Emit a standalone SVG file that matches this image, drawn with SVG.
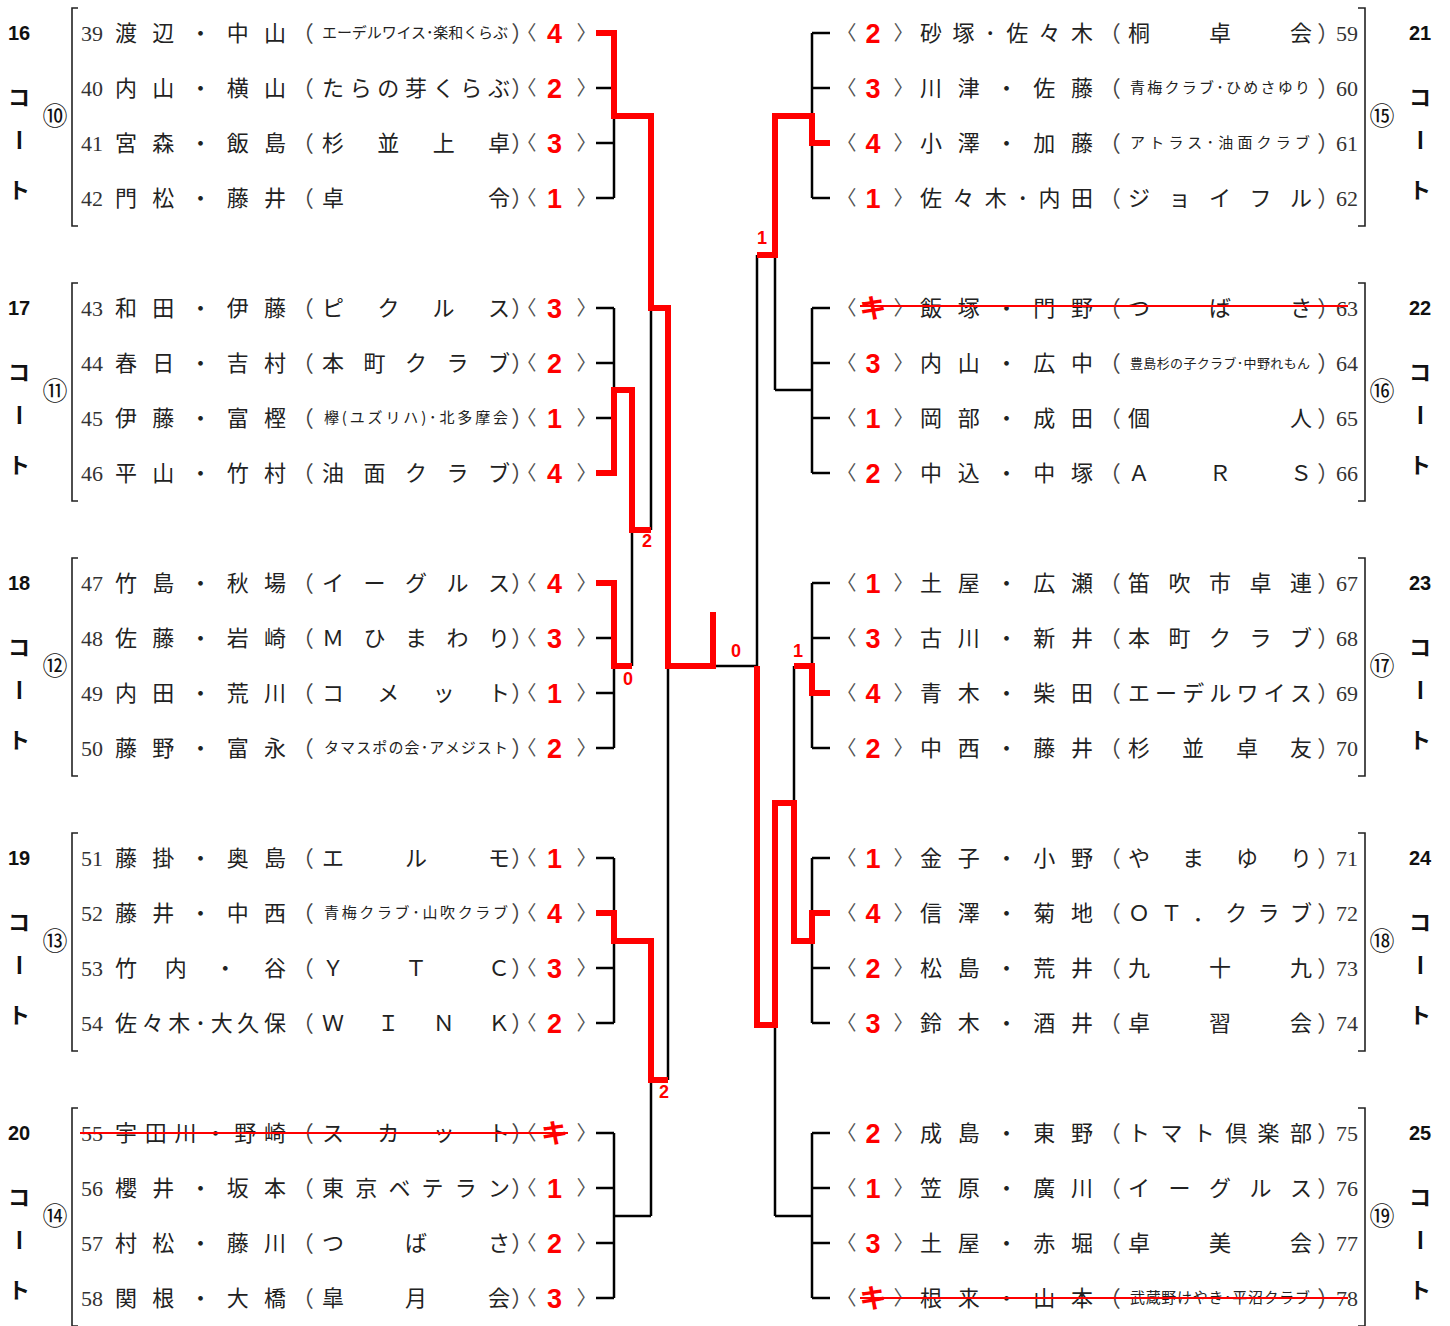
<svg xmlns="http://www.w3.org/2000/svg" width="1450" height="1326" viewBox="0 0 1450 1326">
<style>
text{font-family:"Noto Sans CJK JP",sans-serif}
.no{font-family:"Liberation Serif","Noto Sans CJK JP",serif;font-size:22px;fill:#333}
.nm{font-size:22px;fill:#222}
.cl{font-size:22px;fill:#222}
.sm{font-size:15px;fill:#222}
.s13{font-size:13px;fill:#222}
.pr{font-size:22px;fill:#444;font-feature-settings:"palt"}
.ab{font-size:20px;fill:#555;font-feature-settings:"palt"}
.rt{font-family:"Liberation Sans","Noto Sans CJK JP",sans-serif;font-weight:bold;font-size:27px;fill:#f00}
.ct{font-family:"Liberation Sans",sans-serif;font-weight:bold;font-size:20px;fill:#111;text-anchor:middle}
.kt{font-weight:bold;font-size:22px;fill:#111;text-anchor:middle}
.cn{font-size:25px;fill:#111;text-anchor:middle}
.sc{font-family:"Liberation Sans",sans-serif;font-weight:bold;font-size:18px;fill:#f00;text-anchor:middle}
.bk{fill:none;stroke:#000;stroke-width:2.5}
.rd{fill:none;stroke:#f00;stroke-width:6;stroke-linejoin:miter}
.fr{fill:none;stroke:#222;stroke-width:1.6}
.st{stroke:#f00;stroke-width:2}
</style>
<rect width="1450" height="1326" fill="#fff"/>

<!-- LEFT COURTS -->
<g id="court16">
<text class="ct" x="19" y="40">16</text><text class="kt" x="19" y="105">コ</text><text class="kt" x="19" y="148" transform="rotate(90 19 140)">ー</text><text class="kt" x="19" y="198">ト</text>
<text class="cn" x="55" y="125">⑩</text><path class="fr" d="M78,8H72V226H78"/>
<g id="p39" transform="translate(0,33)"><text class="no" x="81" y="8">39</text><text class="nm" x="115" y="8" textLength="171" lengthAdjust="spacing">渡辺・中山</text><text class="pr" x="302" y="8">（</text><text class="sm" x="322" y="5" textLength="186" lengthAdjust="spacing">エーデルワイス･楽和くらぶ</text><text class="pr" x="512" y="8">）</text><text class="ab" x="526" y="7">〈</text><text class="rt" x="547" y="10">4</text><text class="ab" x="577" y="7">〉</text></g>
<g id="p40" transform="translate(0,88)"><text class="no" x="81" y="8">40</text><text class="nm" x="115" y="8" textLength="171" lengthAdjust="spacing">内山・横山</text><text class="pr" x="302" y="8">（</text><text class="cl" x="322" y="8" textLength="188" lengthAdjust="spacing">たらの芽くらぶ</text><text class="pr" x="512" y="8">）</text><text class="ab" x="526" y="7">〈</text><text class="rt" x="547" y="10">2</text><text class="ab" x="577" y="7">〉</text></g>
<g id="p41" transform="translate(0,143)"><text class="no" x="81" y="8">41</text><text class="nm" x="115" y="8" textLength="171" lengthAdjust="spacing">宮森・飯島</text><text class="pr" x="302" y="8">（</text><text class="cl" x="322" y="8" textLength="188" lengthAdjust="spacing">杉並上卓</text><text class="pr" x="512" y="8">）</text><text class="ab" x="526" y="7">〈</text><text class="rt" x="547" y="10">3</text><text class="ab" x="577" y="7">〉</text></g>
<g id="p42" transform="translate(0,198)"><text class="no" x="81" y="8">42</text><text class="nm" x="115" y="8" textLength="171" lengthAdjust="spacing">門松・藤井</text><text class="pr" x="302" y="8">（</text><text class="cl" x="322" y="8" textLength="188" lengthAdjust="spacing">卓令</text><text class="pr" x="512" y="8">）</text><text class="ab" x="526" y="7">〈</text><text class="rt" x="547" y="10">1</text><text class="ab" x="577" y="7">〉</text></g>
</g>

<g id="court17" transform="translate(0,275)">
<text class="ct" x="19" y="40">17</text><text class="kt" x="19" y="105">コ</text><text class="kt" x="19" y="148" transform="rotate(90 19 140)">ー</text><text class="kt" x="19" y="198">ト</text>
<text class="cn" x="55" y="125">⑪</text><path class="fr" d="M78,8H72V226H78"/>
<g id="p43" transform="translate(0,33)"><text class="no" x="81" y="8">43</text><text class="nm" x="115" y="8" textLength="171" lengthAdjust="spacing">和田・伊藤</text><text class="pr" x="302" y="8">（</text><text class="cl" x="322" y="8" textLength="188" lengthAdjust="spacing">ピクルス</text><text class="pr" x="512" y="8">）</text><text class="ab" x="526" y="7">〈</text><text class="rt" x="547" y="10">3</text><text class="ab" x="577" y="7">〉</text></g>
<g id="p44" transform="translate(0,88)"><text class="no" x="81" y="8">44</text><text class="nm" x="115" y="8" textLength="171" lengthAdjust="spacing">春日・吉村</text><text class="pr" x="302" y="8">（</text><text class="cl" x="322" y="8" textLength="188" lengthAdjust="spacing">本町クラブ</text><text class="pr" x="512" y="8">）</text><text class="ab" x="526" y="7">〈</text><text class="rt" x="547" y="10">2</text><text class="ab" x="577" y="7">〉</text></g>
<g id="p45" transform="translate(0,143)"><text class="no" x="81" y="8">45</text><text class="nm" x="115" y="8" textLength="171" lengthAdjust="spacing">伊藤・富樫</text><text class="pr" x="302" y="8">（</text><text class="sm" x="324" y="5" textLength="184" lengthAdjust="spacing">欅(ユズリハ)･北多摩会</text><text class="pr" x="512" y="8">）</text><text class="ab" x="526" y="7">〈</text><text class="rt" x="547" y="10">1</text><text class="ab" x="577" y="7">〉</text></g>
<g id="p46" transform="translate(0,198)"><text class="no" x="81" y="8">46</text><text class="nm" x="115" y="8" textLength="171" lengthAdjust="spacing">平山・竹村</text><text class="pr" x="302" y="8">（</text><text class="cl" x="322" y="8" textLength="188" lengthAdjust="spacing">油面クラブ</text><text class="pr" x="512" y="8">）</text><text class="ab" x="526" y="7">〈</text><text class="rt" x="547" y="10">4</text><text class="ab" x="577" y="7">〉</text></g>
</g>

<g id="court18" transform="translate(0,550)">
<text class="ct" x="19" y="40">18</text><text class="kt" x="19" y="105">コ</text><text class="kt" x="19" y="148" transform="rotate(90 19 140)">ー</text><text class="kt" x="19" y="198">ト</text>
<text class="cn" x="55" y="125">⑫</text><path class="fr" d="M78,8H72V226H78"/>
<g id="p47" transform="translate(0,33)"><text class="no" x="81" y="8">47</text><text class="nm" x="115" y="8" textLength="171" lengthAdjust="spacing">竹島・秋場</text><text class="pr" x="302" y="8">（</text><text class="cl" x="322" y="8" textLength="188" lengthAdjust="spacing">イーグルス</text><text class="pr" x="512" y="8">）</text><text class="ab" x="526" y="7">〈</text><text class="rt" x="547" y="10">4</text><text class="ab" x="577" y="7">〉</text></g>
<g id="p48" transform="translate(0,88)"><text class="no" x="81" y="8">48</text><text class="nm" x="115" y="8" textLength="171" lengthAdjust="spacing">佐藤・岩崎</text><text class="pr" x="302" y="8">（</text><text class="cl" x="322" y="8" textLength="188" lengthAdjust="spacing">Ｍひまわり</text><text class="pr" x="512" y="8">）</text><text class="ab" x="526" y="7">〈</text><text class="rt" x="547" y="10">3</text><text class="ab" x="577" y="7">〉</text></g>
<g id="p49" transform="translate(0,143)"><text class="no" x="81" y="8">49</text><text class="nm" x="115" y="8" textLength="171" lengthAdjust="spacing">内田・荒川</text><text class="pr" x="302" y="8">（</text><text class="cl" x="322" y="8" textLength="188" lengthAdjust="spacing">コメット</text><text class="pr" x="512" y="8">）</text><text class="ab" x="526" y="7">〈</text><text class="rt" x="547" y="10">1</text><text class="ab" x="577" y="7">〉</text></g>
<g id="p50" transform="translate(0,198)"><text class="no" x="81" y="8">50</text><text class="nm" x="115" y="8" textLength="171" lengthAdjust="spacing">藤野・富永</text><text class="pr" x="302" y="8">（</text><text class="sm" x="324" y="5" textLength="184" lengthAdjust="spacing">タマスポの会･アメジスト</text><text class="pr" x="512" y="8">）</text><text class="ab" x="526" y="7">〈</text><text class="rt" x="547" y="10">2</text><text class="ab" x="577" y="7">〉</text></g>
</g>

<g id="court19" transform="translate(0,825)">
<text class="ct" x="19" y="40">19</text><text class="kt" x="19" y="105">コ</text><text class="kt" x="19" y="148" transform="rotate(90 19 140)">ー</text><text class="kt" x="19" y="198">ト</text>
<text class="cn" x="55" y="125">⑬</text><path class="fr" d="M78,8H72V226H78"/>
<g id="p51" transform="translate(0,33)"><text class="no" x="81" y="8">51</text><text class="nm" x="115" y="8" textLength="171" lengthAdjust="spacing">藤掛・奥島</text><text class="pr" x="302" y="8">（</text><text class="cl" x="322" y="8" textLength="188" lengthAdjust="spacing">エルモ</text><text class="pr" x="512" y="8">）</text><text class="ab" x="526" y="7">〈</text><text class="rt" x="547" y="10">1</text><text class="ab" x="577" y="7">〉</text></g>
<g id="p52" transform="translate(0,88)"><text class="no" x="81" y="8">52</text><text class="nm" x="115" y="8" textLength="171" lengthAdjust="spacing">藤井・中西</text><text class="pr" x="302" y="8">（</text><text class="sm" x="324" y="5" textLength="184" lengthAdjust="spacing">青梅クラブ･山吹クラブ</text><text class="pr" x="512" y="8">）</text><text class="ab" x="526" y="7">〈</text><text class="rt" x="547" y="10">4</text><text class="ab" x="577" y="7">〉</text></g>
<g id="p53" transform="translate(0,143)"><text class="no" x="81" y="8">53</text><text class="nm" x="115" y="8" textLength="171" lengthAdjust="spacing">竹内・谷</text><text class="pr" x="302" y="8">（</text><text class="cl" x="322" y="8" textLength="188" lengthAdjust="spacing">ＹＴＣ</text><text class="pr" x="512" y="8">）</text><text class="ab" x="526" y="7">〈</text><text class="rt" x="547" y="10">3</text><text class="ab" x="577" y="7">〉</text></g>
<g id="p54" transform="translate(0,198)"><text class="no" x="81" y="8">54</text><text class="nm" x="115" y="8" textLength="171" lengthAdjust="spacing">佐々木･大久保</text><text class="pr" x="302" y="8">（</text><text class="cl" x="322" y="8" textLength="188" lengthAdjust="spacing">ＷＩＮＫ</text><text class="pr" x="512" y="8">）</text><text class="ab" x="526" y="7">〈</text><text class="rt" x="547" y="10">2</text><text class="ab" x="577" y="7">〉</text></g>
</g>

<g id="court20" transform="translate(0,1100)">
<text class="ct" x="19" y="40">20</text><text class="kt" x="19" y="105">コ</text><text class="kt" x="19" y="148" transform="rotate(90 19 140)">ー</text><text class="kt" x="19" y="198">ト</text>
<text class="cn" x="55" y="125">⑭</text><path class="fr" d="M78,8H72V226H78"/>
<g id="p55" transform="translate(0,33)"><text class="no" x="81" y="8">55</text><text class="nm" x="115" y="8" textLength="171" lengthAdjust="spacing">宇田川・野崎</text><text class="pr" x="302" y="8">（</text><text class="cl" x="322" y="8" textLength="188" lengthAdjust="spacing">スカット</text><text class="pr" x="512" y="8">）</text><text class="ab" x="526" y="7">〈</text><text class="rt" x="541" y="10">キ</text><text class="ab" x="577" y="7">〉</text><line class="st" x1="80" y1="0" x2="568" y2="0"/></g>
<g id="p56" transform="translate(0,88)"><text class="no" x="81" y="8">56</text><text class="nm" x="115" y="8" textLength="171" lengthAdjust="spacing">櫻井・坂本</text><text class="pr" x="302" y="8">（</text><text class="cl" x="322" y="8" textLength="188" lengthAdjust="spacing">東京ベテラン</text><text class="pr" x="512" y="8">）</text><text class="ab" x="526" y="7">〈</text><text class="rt" x="547" y="10">1</text><text class="ab" x="577" y="7">〉</text></g>
<g id="p57" transform="translate(0,143)"><text class="no" x="81" y="8">57</text><text class="nm" x="115" y="8" textLength="171" lengthAdjust="spacing">村松・藤川</text><text class="pr" x="302" y="8">（</text><text class="cl" x="322" y="8" textLength="188" lengthAdjust="spacing">つばさ</text><text class="pr" x="512" y="8">）</text><text class="ab" x="526" y="7">〈</text><text class="rt" x="547" y="10">2</text><text class="ab" x="577" y="7">〉</text></g>
<g id="p58" transform="translate(0,198)"><text class="no" x="81" y="8">58</text><text class="nm" x="115" y="8" textLength="171" lengthAdjust="spacing">関根・大橋</text><text class="pr" x="302" y="8">（</text><text class="cl" x="322" y="8" textLength="188" lengthAdjust="spacing">皐月会</text><text class="pr" x="512" y="8">）</text><text class="ab" x="526" y="7">〈</text><text class="rt" x="547" y="10">3</text><text class="ab" x="577" y="7">〉</text></g>
</g>

<!-- RIGHT COURTS -->
<g id="court21">
<text class="ct" x="1420" y="40">21</text><text class="kt" x="1420" y="105">コ</text><text class="kt" x="1420" y="148" transform="rotate(90 1420 140)">ー</text><text class="kt" x="1420" y="198">ト</text>
<text class="cn" x="1382" y="125">⑮</text><path class="fr" d="M1358,8H1365V226H1358"/>
<g id="p59" transform="translate(0,33)"><text class="ab" x="846" y="7">〈</text><text class="rt" x="865.5" y="10">2</text><text class="ab" x="894" y="7">〉</text><text class="nm" x="920" y="8" textLength="173" lengthAdjust="spacing">砂塚･佐々木</text><text class="pr" x="1109" y="8">（</text><text class="cl" x="1128" y="8" textLength="184" lengthAdjust="spacing">桐卓会</text><text class="pr" x="1318" y="8">）</text><text class="no" x="1336" y="8">59</text></g>
<g id="p60" transform="translate(0,88)"><text class="ab" x="846" y="7">〈</text><text class="rt" x="865.5" y="10">3</text><text class="ab" x="894" y="7">〉</text><text class="nm" x="920" y="8" textLength="173" lengthAdjust="spacing">川津・佐藤</text><text class="pr" x="1109" y="8">（</text><text class="sm" x="1130" y="5" textLength="180" lengthAdjust="spacing">青梅クラブ･ひめさゆり</text><text class="pr" x="1318" y="8">）</text><text class="no" x="1336" y="8">60</text></g>
<g id="p61" transform="translate(0,143)"><text class="ab" x="846" y="7">〈</text><text class="rt" x="865.5" y="10">4</text><text class="ab" x="894" y="7">〉</text><text class="nm" x="920" y="8" textLength="173" lengthAdjust="spacing">小澤・加藤</text><text class="pr" x="1109" y="8">（</text><text class="sm" x="1130" y="5" textLength="180" lengthAdjust="spacing">アトラス･油面クラブ</text><text class="pr" x="1318" y="8">）</text><text class="no" x="1336" y="8">61</text></g>
<g id="p62" transform="translate(0,198)"><text class="ab" x="846" y="7">〈</text><text class="rt" x="865.5" y="10">1</text><text class="ab" x="894" y="7">〉</text><text class="nm" x="920" y="8" textLength="173" lengthAdjust="spacing">佐々木･内田</text><text class="pr" x="1109" y="8">（</text><text class="cl" x="1128" y="8" textLength="184" lengthAdjust="spacing">ジョイフル</text><text class="pr" x="1318" y="8">）</text><text class="no" x="1336" y="8">62</text></g>
</g>

<g id="court22" transform="translate(0,275)">
<text class="ct" x="1420" y="40">22</text><text class="kt" x="1420" y="105">コ</text><text class="kt" x="1420" y="148" transform="rotate(90 1420 140)">ー</text><text class="kt" x="1420" y="198">ト</text>
<text class="cn" x="1382" y="125">⑯</text><path class="fr" d="M1358,8H1365V226H1358"/>
<g id="p63" transform="translate(0,33)"><text class="ab" x="846" y="7">〈</text><text class="rt" x="859.5" y="10">キ</text><text class="ab" x="894" y="7">〉</text><text class="nm" x="920" y="8" textLength="173" lengthAdjust="spacing">飯塚・門野</text><text class="pr" x="1109" y="8">（</text><text class="cl" x="1128" y="8" textLength="184" lengthAdjust="spacing">つばさ</text><text class="pr" x="1318" y="8">）</text><text class="no" x="1336" y="8">63</text><line class="st" x1="860" y1="-2" x2="1348" y2="-2"/></g>
<g id="p64" transform="translate(0,88)"><text class="ab" x="846" y="7">〈</text><text class="rt" x="865.5" y="10">3</text><text class="ab" x="894" y="7">〉</text><text class="nm" x="920" y="8" textLength="173" lengthAdjust="spacing">内山・広中</text><text class="pr" x="1109" y="8">（</text><text class="s13" x="1130" y="5" textLength="180" lengthAdjust="spacing">豊島杉の子クラブ･中野れもん</text><text class="pr" x="1318" y="8">）</text><text class="no" x="1336" y="8">64</text></g>
<g id="p65" transform="translate(0,143)"><text class="ab" x="846" y="7">〈</text><text class="rt" x="865.5" y="10">1</text><text class="ab" x="894" y="7">〉</text><text class="nm" x="920" y="8" textLength="173" lengthAdjust="spacing">岡部・成田</text><text class="pr" x="1109" y="8">（</text><text class="cl" x="1128" y="8" textLength="184" lengthAdjust="spacing">個人</text><text class="pr" x="1318" y="8">）</text><text class="no" x="1336" y="8">65</text></g>
<g id="p66" transform="translate(0,198)"><text class="ab" x="846" y="7">〈</text><text class="rt" x="865.5" y="10">2</text><text class="ab" x="894" y="7">〉</text><text class="nm" x="920" y="8" textLength="173" lengthAdjust="spacing">中込・中塚</text><text class="pr" x="1109" y="8">（</text><text class="cl" x="1128" y="8" textLength="184" lengthAdjust="spacing">ＡＲＳ</text><text class="pr" x="1318" y="8">）</text><text class="no" x="1336" y="8">66</text></g>
</g>

<g id="court23" transform="translate(0,550)">
<text class="ct" x="1420" y="40">23</text><text class="kt" x="1420" y="105">コ</text><text class="kt" x="1420" y="148" transform="rotate(90 1420 140)">ー</text><text class="kt" x="1420" y="198">ト</text>
<text class="cn" x="1382" y="125">⑰</text><path class="fr" d="M1358,8H1365V226H1358"/>
<g id="p67" transform="translate(0,33)"><text class="ab" x="846" y="7">〈</text><text class="rt" x="865.5" y="10">1</text><text class="ab" x="894" y="7">〉</text><text class="nm" x="920" y="8" textLength="173" lengthAdjust="spacing">土屋・広瀬</text><text class="pr" x="1109" y="8">（</text><text class="cl" x="1128" y="8" textLength="184" lengthAdjust="spacing">笛吹市卓連</text><text class="pr" x="1318" y="8">）</text><text class="no" x="1336" y="8">67</text></g>
<g id="p68" transform="translate(0,88)"><text class="ab" x="846" y="7">〈</text><text class="rt" x="865.5" y="10">3</text><text class="ab" x="894" y="7">〉</text><text class="nm" x="920" y="8" textLength="173" lengthAdjust="spacing">古川・新井</text><text class="pr" x="1109" y="8">（</text><text class="cl" x="1128" y="8" textLength="184" lengthAdjust="spacing">本町クラブ</text><text class="pr" x="1318" y="8">）</text><text class="no" x="1336" y="8">68</text></g>
<g id="p69" transform="translate(0,143)"><text class="ab" x="846" y="7">〈</text><text class="rt" x="865.5" y="10">4</text><text class="ab" x="894" y="7">〉</text><text class="nm" x="920" y="8" textLength="173" lengthAdjust="spacing">青木・柴田</text><text class="pr" x="1109" y="8">（</text><text class="cl" x="1128" y="8" textLength="184" lengthAdjust="spacing">エーデルワイス</text><text class="pr" x="1318" y="8">）</text><text class="no" x="1336" y="8">69</text></g>
<g id="p70" transform="translate(0,198)"><text class="ab" x="846" y="7">〈</text><text class="rt" x="865.5" y="10">2</text><text class="ab" x="894" y="7">〉</text><text class="nm" x="920" y="8" textLength="173" lengthAdjust="spacing">中西・藤井</text><text class="pr" x="1109" y="8">（</text><text class="cl" x="1128" y="8" textLength="184" lengthAdjust="spacing">杉並卓友</text><text class="pr" x="1318" y="8">）</text><text class="no" x="1336" y="8">70</text></g>
</g>

<g id="court24" transform="translate(0,825)">
<text class="ct" x="1420" y="40">24</text><text class="kt" x="1420" y="105">コ</text><text class="kt" x="1420" y="148" transform="rotate(90 1420 140)">ー</text><text class="kt" x="1420" y="198">ト</text>
<text class="cn" x="1382" y="125">⑱</text><path class="fr" d="M1358,8H1365V226H1358"/>
<g id="p71" transform="translate(0,33)"><text class="ab" x="846" y="7">〈</text><text class="rt" x="865.5" y="10">1</text><text class="ab" x="894" y="7">〉</text><text class="nm" x="920" y="8" textLength="173" lengthAdjust="spacing">金子・小野</text><text class="pr" x="1109" y="8">（</text><text class="cl" x="1128" y="8" textLength="184" lengthAdjust="spacing">やまゆり</text><text class="pr" x="1318" y="8">）</text><text class="no" x="1336" y="8">71</text></g>
<g id="p72" transform="translate(0,88)"><text class="ab" x="846" y="7">〈</text><text class="rt" x="865.5" y="10">4</text><text class="ab" x="894" y="7">〉</text><text class="nm" x="920" y="8" textLength="173" lengthAdjust="spacing">信澤・菊地</text><text class="pr" x="1109" y="8">（</text><text class="cl" x="1128" y="8" textLength="184" lengthAdjust="spacing">ＯＴ．クラブ</text><text class="pr" x="1318" y="8">）</text><text class="no" x="1336" y="8">72</text></g>
<g id="p73" transform="translate(0,143)"><text class="ab" x="846" y="7">〈</text><text class="rt" x="865.5" y="10">2</text><text class="ab" x="894" y="7">〉</text><text class="nm" x="920" y="8" textLength="173" lengthAdjust="spacing">松島・荒井</text><text class="pr" x="1109" y="8">（</text><text class="cl" x="1128" y="8" textLength="184" lengthAdjust="spacing">九十九</text><text class="pr" x="1318" y="8">）</text><text class="no" x="1336" y="8">73</text></g>
<g id="p74" transform="translate(0,198)"><text class="ab" x="846" y="7">〈</text><text class="rt" x="865.5" y="10">3</text><text class="ab" x="894" y="7">〉</text><text class="nm" x="920" y="8" textLength="173" lengthAdjust="spacing">鈴木・酒井</text><text class="pr" x="1109" y="8">（</text><text class="cl" x="1128" y="8" textLength="184" lengthAdjust="spacing">卓習会</text><text class="pr" x="1318" y="8">）</text><text class="no" x="1336" y="8">74</text></g>
</g>

<g id="court25" transform="translate(0,1100)">
<text class="ct" x="1420" y="40">25</text><text class="kt" x="1420" y="105">コ</text><text class="kt" x="1420" y="148" transform="rotate(90 1420 140)">ー</text><text class="kt" x="1420" y="198">ト</text>
<text class="cn" x="1382" y="125">⑲</text><path class="fr" d="M1358,8H1365V226H1358"/>
<g id="p75" transform="translate(0,33)"><text class="ab" x="846" y="7">〈</text><text class="rt" x="865.5" y="10">2</text><text class="ab" x="894" y="7">〉</text><text class="nm" x="920" y="8" textLength="173" lengthAdjust="spacing">成島・東野</text><text class="pr" x="1109" y="8">（</text><text class="cl" x="1128" y="8" textLength="184" lengthAdjust="spacing">トマト倶楽部</text><text class="pr" x="1318" y="8">）</text><text class="no" x="1336" y="8">75</text></g>
<g id="p76" transform="translate(0,88)"><text class="ab" x="846" y="7">〈</text><text class="rt" x="865.5" y="10">1</text><text class="ab" x="894" y="7">〉</text><text class="nm" x="920" y="8" textLength="173" lengthAdjust="spacing">笠原・廣川</text><text class="pr" x="1109" y="8">（</text><text class="cl" x="1128" y="8" textLength="184" lengthAdjust="spacing">イーグルス</text><text class="pr" x="1318" y="8">）</text><text class="no" x="1336" y="8">76</text></g>
<g id="p77" transform="translate(0,143)"><text class="ab" x="846" y="7">〈</text><text class="rt" x="865.5" y="10">3</text><text class="ab" x="894" y="7">〉</text><text class="nm" x="920" y="8" textLength="173" lengthAdjust="spacing">土屋・赤堀</text><text class="pr" x="1109" y="8">（</text><text class="cl" x="1128" y="8" textLength="184" lengthAdjust="spacing">卓美会</text><text class="pr" x="1318" y="8">）</text><text class="no" x="1336" y="8">77</text></g>
<g id="p78" transform="translate(0,198)"><text class="ab" x="846" y="7">〈</text><text class="rt" x="859.5" y="10">キ</text><text class="ab" x="894" y="7">〉</text><text class="nm" x="920" y="8" textLength="173" lengthAdjust="spacing">根来・山本</text><text class="pr" x="1109" y="8">（</text><text class="sm" x="1130" y="5" textLength="180" lengthAdjust="spacing">武蔵野けやき･平沼クラブ</text><text class="pr" x="1318" y="8">）</text><text class="no" x="1336" y="8">78</text><line class="st" x1="860" y1="0" x2="1348" y2="0"/></g>
</g>

<!-- CONNECTORS -->
<g id="connectors">
<path class="bk" d="M596,33H614M596,88H614M596,143H614M596,198H614M614,33V198M614,116H651
M596,308H614M596,363H614M596,418H614M596,473H614M614,308V473M614,390H632
M596,583H614M596,638H614M596,693H614M596,748H614M614,583V748M614,666H632
M596,858H614M596,913H614M596,968H614M596,1023H614M614,858V1023M614,941H651
M596,1133H614M596,1188H614M596,1243H614M596,1298H614M614,1133V1298M614,1216H651
M632,390V666M632,530H651M651,116V530M651,308H668M651,941V1216M651,1080H668M668,308V1080M668,666H757
M830,33H812M830,88H812M830,143H812M830,198H812M812,33V198M812,116H775
M830,308H812M830,363H812M830,418H812M830,473H812M812,308V473M812,390H775
M830,583H812M830,638H812M830,693H812M830,748H812M812,583V748M812,666H794
M830,858H812M830,913H812M830,968H812M830,1023H812M812,858V1023M812,941H794
M830,1133H812M830,1188H812M830,1243H812M830,1298H812M812,1133V1298M812,1216H775
M775,116V390M775,255H757M794,666V941M794,803H775M775,803V1216M775,1025H757M757,255V1025"/>
<path class="rd" d="M596,33H614V116H651V308H668V666H713V612"/>
<path class="rd" d="M596,473H614V390H632V530H651"/>
<path class="rd" d="M596,583H614V666H632"/>
<path class="rd" d="M596,913H614V941H651V1080H668"/>
<path class="rd" d="M830,143H812V116H775V255H757"/>
<path class="rd" d="M830,693H812V666H794"/>
<path class="rd" d="M830,913H812V941H794V803H775V1025H757V666"/>
<text class="sc" x="736" y="657">0</text>
<text class="sc" x="762" y="244">1</text>
<text class="sc" x="647" y="547">2</text>
<text class="sc" x="628" y="685">0</text>
<text class="sc" x="798" y="657">1</text>
<text class="sc" x="664" y="1098">2</text>
</g>
</svg>
